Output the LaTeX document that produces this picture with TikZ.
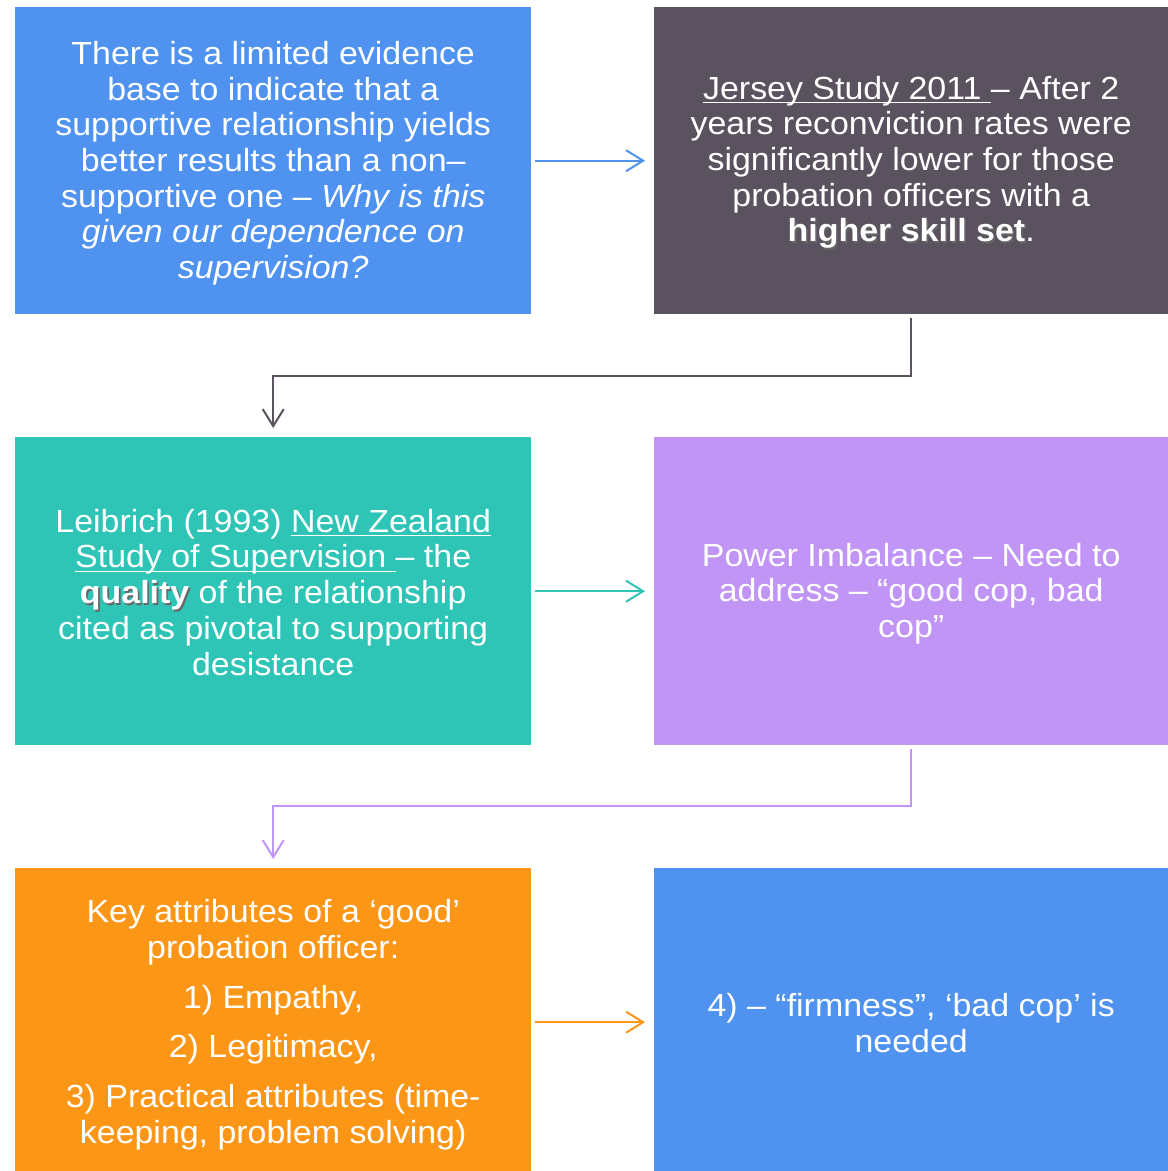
\documentclass[tikz,border=0pt]{standalone}
\usepackage{fontspec}
\setmainfont{Liberation Sans}[FakeStretch=1.06]
\usetikzlibrary{arrows.meta}
\definecolor{cblue}{RGB}{79,146,240}
\definecolor{cgray}{RGB}{90,82,94}
\definecolor{cteal}{RGB}{46,196,182}
\definecolor{clav}{RGB}{193,149,246}
\definecolor{corange}{RGB}{252,150,22}
\newcommand\myul[1]{\setbox0\hbox{#1}\rlap{\rule[-4pt]{\wd0}{1.4pt}}\box0}
\newcommand\shbold[1]{\rlap{\hspace{1.6pt}\raisebox{-1.8pt}{\textcolor{black!60}{\textbf{#1}}}}\textbf{#1}}
\begin{document}
\begin{tikzpicture}[x=1pt,y=1pt,
  boxa/.style={anchor=north west,inner sep=0pt,minimum width=516pt,minimum height=307pt},
  txt/.style={text=white,align=center,inner sep=0pt,font=\fontsize{32}{35.7}\selectfont},
  conn/.style={line width=2pt,-{Straight Barb[length=17pt,width=21pt,line width=2pt]},
    shorten <=4pt,shorten >=9pt}]
\useasboundingbox (0,0) rectangle (1168,-1171);
\fill[white] (0,0) rectangle (1168,-1171);
\node[boxa,fill=cblue] (b1) at (15,-7) {};
\node[boxa,fill=cgray,minimum width=514pt] (b2) at (654,-7) {};
\node[boxa,fill=cteal,minimum height=308pt] (b3) at (15,-437) {};
\node[boxa,fill=clav,minimum width=514pt,minimum height=308pt] (b4) at (654,-437) {};
\node[boxa,fill=corange,minimum height=308pt] (b5) at (15,-868) {};
\node[boxa,fill=cblue,minimum width=514pt,minimum height=308pt] (b6) at (654,-868) {};
\node[txt] (t1) at ([yshift=-2.5pt]b1.center) {There is a limited evidence\\base to indicate that a\\supportive relationship yields\\better results than a non–\\supportive one – \textit{Why is this}\\\textit{given our dependence on}\\\textit{supervision?}};
\node[txt] (t2) at ([yshift=-2.5pt]b2.center) {\myul{Jersey Study 2011 }– After 2\\years reconviction rates were\\significantly lower for those\\probation officers with a\\\shbold{higher skill set}.};
\node[txt] (t3) at ([yshift=-1pt]b3.center) {Leibrich (1993) \myul{New Zealand}\\\myul{Study of Supervision }– the\\\shbold{quality} of the relationship\\cited as pivotal to supporting\\desistance};
\node[txt] (t4) at ([yshift=-2.5pt]b4.center) {Power Imbalance – Need to\\address – “good cop, bad\\cop”};
\node[txt] (t5) at ([yshift=-2.5pt]b5.center) {Key attributes of a ‘good’\\probation officer:\\[14pt]1) Empathy,\\[14pt]2) Legitimacy,\\[14pt]3) Practical attributes (time-\\keeping, problem solving)};
\node[txt] (t6) at ([yshift=-1pt]b6.center) {4) – “firmness”, ‘bad cop’ is\\needed};
\draw[conn,cblue] (b1.east) -- (b2.west);
\draw[conn,cgray] (b2.south) -- ++(0,-62) -| (b3.north);
\draw[conn,cteal] (b3.east) -- (b4.west);
\draw[conn,clav] (b4.south) -- ++(0,-61) -| (b5.north);
\draw[conn,corange] (b5.east) -- (b6.west);
\end{tikzpicture}
\end{document}
